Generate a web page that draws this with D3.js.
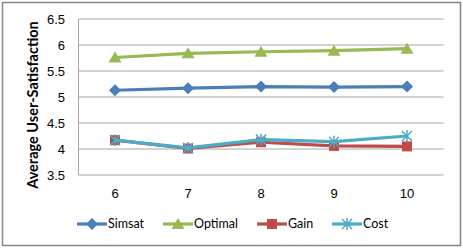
<!DOCTYPE html>
<html>
<head>
<meta charset="utf-8">
<script src="https://cdn.jsdelivr.net/npm/d3@7"></script>
<style>
  body { margin: 0; background: #fff; }
  svg text { font-family: "Liberation Sans", Arial, sans-serif; }
</style>
</head>
<body>
<div id="chart"></div>
<script>
// data
var categories = ["6", "7", "8", "9", "10"];
var simsat  = [5.13, 5.17, 5.20, 5.19, 5.20];
var optimal = [5.76, 5.84, 5.87, 5.89, 5.93];
var gain    = [4.17, 4.01, 4.13, 4.06, 4.05];
var cost    = [4.17, 4.02, 4.18, 4.14, 4.25];
var yTicks  = [3.5, 4, 4.5, 5, 5.5, 6, 6.5];

var seriesNames = ["Simsat", "Optimal", "Gain", "Cost"];
var seriesVals = [simsat, optimal, gain, cost];
var colors = ["#4a7ebb", "#98b954", "#be4b48", "#4bacc6"];
var symbols = ["diamond", "triangle", "square", "star"];

var width = 463, height = 249;

var svg = d3.select("#chart").append("svg")
    .attr("width", width)
    .attr("height", height);

// outer frame
svg.append("rect")
    .attr("x", 2.5).attr("y", 2.5)
    .attr("width", 458).attr("height", 243)
    .attr("fill", "#fff")
    .attr("stroke", "#868686")
    .attr("stroke-width", 1.5);

var x = d3.scaleBand().domain(categories).range([78.5, 443.5]);
var y = d3.scaleLinear().domain([3.5, 6.5]).range([175, 19]);

// gridlines
svg.append("g").selectAll("line")
    .data(yTicks.slice(1))
    .enter().append("line")
    .attr("x1", 78.5).attr("x2", 443.5)
    .attr("y1", d => y(d)).attr("y2", d => y(d))
    .attr("stroke", "#a6a6a6").attr("stroke-width", 1);

// axis lines
svg.append("line")
    .attr("x1", 78.5).attr("x2", 78.5)
    .attr("y1", y(6.5)).attr("y2", y(3.5))
    .attr("stroke", "#a6a6a6");
svg.append("line")
    .attr("x1", 78.5).attr("x2", 443.5)
    .attr("y1", y(3.5)).attr("y2", y(3.5))
    .attr("stroke", "#a6a6a6");

// y tick labels
svg.append("g").selectAll("text")
    .data(yTicks)
    .enter().append("text")
    .attr("x", 65)
    .attr("y", d => y(d))
    .attr("dy", "0.35em")
    .attr("text-anchor", "end")
    .style("font-size", "13px")
    .text(d => d);

// x tick labels
svg.append("g").selectAll("text")
    .data(categories)
    .enter().append("text")
    .attr("x", d => x(d) + x.bandwidth() / 2)
    .attr("y", 193)
    .attr("dy", "0.35em")
    .attr("text-anchor", "middle")
    .style("font-size", "13px")
    .text(d => d);

// y title
svg.append("text")
    .attr("transform", "translate(33,105) rotate(-90)")
    .attr("text-anchor", "middle")
    .attr("dy", "0.35em")
    .style("font-family", "Lato, 'Open Sans', sans-serif")
    .style("font-weight", "bold")
    .style("font-size", "14.5px")
    .text("Average User-Satisfaction");

var line = d3.line()
    .x((d, i) => x(categories[i]) + x.bandwidth() / 2)
    .y(d => y(d));

function drawMarker(g, k, cx, cy) {
    var c = colors[k];
    if (symbols[k] === "diamond") {
        g.append("path").attr("d", "M0,-6L6,0L0,6L-6,0Z")
            .attr("transform", "translate(" + cx + "," + cy + ")")
            .attr("fill", c);
    } else if (symbols[k] === "triangle") {
        g.append("path").attr("d", "M0,-6L6.5,5L-6.5,5Z")
            .attr("transform", "translate(" + cx + "," + cy + ")")
            .attr("fill", c);
    } else if (symbols[k] === "square") {
        g.append("rect").attr("x", cx - 5).attr("y", cy - 5)
            .attr("width", 10).attr("height", 10)
            .attr("fill", c);
    } else {
        g.append("path").attr("d", "M-5,-5L5,5M-5,5L5,-5M0,-6L0,6")
            .attr("transform", "translate(" + cx + "," + cy + ")")
            .attr("stroke", c).attr("stroke-width", 1.5).attr("fill", "none");
    }
}

seriesVals.forEach((vals, k) => {
    var g = svg.append("g");
    g.append("path")
        .datum(vals)
        .attr("d", line)
        .attr("fill", "none")
        .attr("stroke", colors[k])
        .attr("stroke-width", 3.2)
        .attr("stroke-linejoin", "round");
    vals.forEach((v, i) => {
        drawMarker(g, k, x(categories[i]) + x.bandwidth() / 2, y(v));
    });
});

// legend
var legX = [77, 163, 257, 332];
seriesNames.forEach((name, k) => {
    var g = svg.append("g");
    var lx = legX[k], ly = 224;
    g.append("line")
        .attr("x1", lx).attr("x2", lx + 30)
        .attr("y1", ly).attr("y2", ly)
        .attr("stroke", colors[k]).attr("stroke-width", 3.2);
    drawMarker(g, k, lx + 15, ly);
    g.append("text")
        .attr("x", lx + 31).attr("y", ly)
        .attr("dy", "0.35em")
        .style("font-family", "Lato, 'Open Sans', sans-serif")
        .style("font-size", "12.5px")
        .text(name);
});
</script>
</body>
</html>
